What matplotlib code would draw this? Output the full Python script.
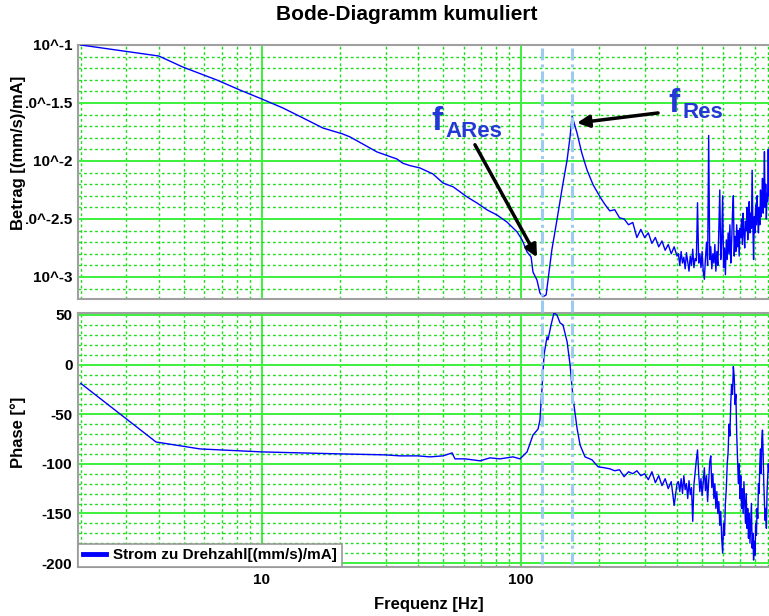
import numpy as np
import matplotlib
matplotlib.use("Agg")
import matplotlib.pyplot as plt
import matplotlib.transforms as mtransforms
from matplotlib.lines import Line2D
from matplotlib.ticker import FixedLocator, FixedFormatter, MultipleLocator, FuncFormatter, NullFormatter

plt.rcParams['font.family'] = ['Liberation Sans', 'DejaVu Sans']
plt.rcParams['font.weight'] = 'bold'
plt.rcParams['axes.unicode_minus'] = False

# Magnitude (log10 of |G| in (mm/s)/mA), smooth part up to ~200 Hz
mag_freq_lo = [2.0, 4.0, 4.95, 6.7, 8.22, 10.0, 12.05, 14.4, 17.2, 20.5,
               21.9, 27.8, 33.2, 35.0, 37.3, 40.7, 45.7, 50.0, 54.8, 61.9,
               67.6, 74.0, 80.8, 88.2, 96.6, 101.0, 105.5, 109.4, 111.2, 115.2,
               118.3, 121.6, 125.0, 127.1, 131.5, 137.6, 144.4, 150.6, 154.6, 157.4,
               164.5, 171.6, 179.8, 189.9, 201.9]
mag_lo = [-1.0, -1.095, -1.190, -1.302, -1.388, -1.466, -1.543, -1.629, -1.716, -1.767,
          -1.793, -1.922, -1.983, -2.02, -2.04, -2.06, -2.112, -2.19, -2.224, -2.31,
          -2.362, -2.422, -2.466, -2.526, -2.612, -2.681, -2.784, -2.828, -2.957, -3.026,
          -3.138, -3.17, -3.155, -3.026, -2.767, -2.509, -2.224, -1.991, -1.793, -1.612,
          -1.759, -1.931, -2.078, -2.207, -2.31]

# Phase (deg), smooth part up to ~200 Hz
ph_freq_lo = [2.0, 3.9, 5.77, 10.0, 20.0, 30.0, 34.1, 40.0, 44.5, 50.0,
              54.2, 55.6, 60.8, 69.5, 75.9, 83.0, 93.1, 99.1, 105.5, 111.2,
              116.3, 118.3, 120.5, 122.7, 126.0, 127.1, 130.6, 134.0, 137.6, 141.5,
              145.2, 150.6, 154.6, 158.8, 164.5, 169.0, 176.6, 187.9, 198.3]
phase_lo = [-19, -78, -85, -88, -90, -91, -92, -92, -93, -92,
            -89, -95, -95, -97, -94, -95, -93, -95, -88, -71,
            -65, -56, -24, 10, 28, 25, 40, 52, 50, 42,
            40, 23, 0, -34, -64, -81, -93, -96, -103]

# Noisy high-frequency part, FFT bins
freq_hi = list(range(210, 401, 10)) + list(range(405, 906, 5))
mag_hi = [-2.37, -2.43, -2.42, -2.49, -2.50, -2.55, -2.53, -2.66, -2.59, -2.66,
          -2.62, -2.71, -2.66, -2.74, -2.69, -2.77, -2.72, -2.80, -2.74, -2.82,
          -2.80, -2.90, -2.78, -2.88, -2.83, -2.93, -2.79, -2.87, -2.95, -2.82,
          -2.90, -2.76, -2.92, -2.84, -2.86, -2.36, -2.88, -2.80, -2.92, -2.78,
          -2.95, -3.02, -2.84, -2.70, -2.90, -1.78, -2.85, -2.74, -2.93, -2.80,
          -2.88, -2.72, -2.95, -2.78, -2.90, -2.60, -2.25, -2.85, -2.70, -2.30,
          -2.92, -2.75, -2.98, -2.68, -2.85, -2.62, -2.80, -2.55, -2.88, -2.70,
          -2.45, -2.30, -2.82, -2.65, -2.78, -2.55, -2.74, -2.60, -2.82, -2.58,
          -2.66, -2.50, -2.72, -2.45, -2.62, -2.75, -2.52, -2.60, -2.40, -2.68,
          -2.50, -2.35, -2.62, -2.45, -2.58, -2.08, -2.55, -2.85, -2.48, -2.62,
          -2.38, -2.55, -2.30, -2.50, -2.62, -2.40, -2.55, -2.25, -2.48, -2.35,
          -2.15, -2.45, -2.30, -1.92, -2.40, -2.20, -2.50, -2.28, -2.35, -1.90,
          -2.30]
phase_hi = [-104, -105, -107, -106, -113, -108, -110, -107, -112, -110,
            -116, -108, -119, -112, -122, -115, -125, -118, -142, -120,
            -118, -128, -115, -130, -112, -126, -120, -135, -117, -131,
            -124, -158, -121, -108, -96, -86, -110, -128, -115, -132,
            -119, -104, -127, -112, -138, -118, -98, -92, -124, -110,
            -135, -120, -145, -128, -150, -138, -162, -148, -175, -190,
            -160, -172, -140, -125, -100, -88, -60, -72, -38, -20,
            -30, -2, -12, -40, -30, -70, -95, -120, -100, -135,
            -112, -145, -125, -150, -118, -140, -160, -130, -165, -145,
            -175, -150, -180, -160, -140, -185, -170, -197, -178, -192,
            -160, -172, -145, -155, -120, -130, -100, -85, -110, -75,
            -66, -90, -120, -140, -157, -145, -165, -130, -115, -100,
            -108]

f_ares = 120.5   # anti-resonance
f_res = 157.4    # resonance

freq_mag = mag_freq_lo + freq_hi
mag = mag_lo + mag_hi
freq_ph = ph_freq_lo + freq_hi
phase = phase_lo + phase_hi

W, H = 769, 616
fig = plt.figure(figsize=(W / 100, H / 100), dpi=100)
ax_mag = fig.add_axes([78 / W, 1 - 299 / H, 691 / W, 254 / H])
ax_ph = fig.add_axes([78 / W, 1 - 567 / H, 691 / W, 254 / H], sharex=ax_mag)

major_green = "#3cf03c"
minor_green = "#1edc1e"
curve_blue = "#0000ff"
marker_blue = "#9ccbef"

for ax in (ax_mag, ax_ph):
    ax.set_xscale("log")
    ax.set_xlim(1.95, 906)
    ax.xaxis.set_major_locator(FixedLocator([10, 100]))
    ax.xaxis.set_minor_locator(FixedLocator([2, 3, 4, 5, 6, 7, 8, 9,
                                             20, 30, 40, 50, 60, 70, 80, 90,
                                             200, 300, 400, 500, 600, 700, 800, 900]))
    ax.xaxis.set_minor_formatter(NullFormatter())
    ax.set_axisbelow(True)
    ax.grid(which="major", color=major_green, lw=1.4, ls="-")
    ax.grid(which="minor", color=minor_green, lw=1.0, ls=(0, (2, 2)))
    ax.tick_params(which="both", length=0, labelsize=11, pad=4)
    for side in ("left", "top", "bottom"):
        ax.spines[side].set_color("#a0a0a0")
        ax.spines[side].set_linewidth(1.5)
    ax.spines["right"].set_visible(False)

# magnitude panel
ax_mag.plot(freq_mag, mag, color=curve_blue, lw=1.0, zorder=3)
ax_mag.set_ylim(-3.19, -1.0)
ax_mag.yaxis.set_major_locator(MultipleLocator(0.5))
ax_mag.yaxis.set_minor_locator(MultipleLocator(0.1))
ax_mag.yaxis.set_major_formatter(FuncFormatter(lambda v, p: f"10^{v:g}"))
ax_mag.tick_params(axis="x", labelbottom=False)
ax_mag.set_ylabel("Betrag [(mm/s)/mA]", fontsize=12, fontweight="bold",
                  bbox=dict(facecolor="white", edgecolor="none", pad=0))
ax_mag.yaxis.set_label_coords(-0.075, 0.575)

# phase panel
ax_ph.plot(freq_ph, phase, color=curve_blue, lw=1.0, zorder=3)
ax_ph.set_ylim(-204, 52)
ax_ph.yaxis.set_major_locator(MultipleLocator(50))
ax_ph.yaxis.set_minor_locator(MultipleLocator(10))
ax_ph.xaxis.set_major_formatter(FixedFormatter(["10", "100"]))
ax_ph.set_ylabel("Phase [°]", fontsize=12, fontweight="bold")
ax_ph.yaxis.set_label_coords(-0.075, 0.53)
ax_ph.set_xlabel("Frequenz [Hz]", fontsize=12, fontweight="bold")
ax_ph.xaxis.set_label_coords(0.508, -0.12)

leg = ax_ph.legend([Line2D([], [], color=curve_blue, lw=3.5)],
                   ["Strom zu Drehzahl[(mm/s)/mA]"],
                   loc="lower left", borderaxespad=0, fancybox=False,
                   framealpha=1, edgecolor="#999999",
                   prop={"weight": "bold", "size": 11},
                   handlelength=1.5, handletextpad=0.5, borderpad=0.3)
leg.get_frame().set_linewidth(1.2)

# resonance / anti-resonance markers running through both panels
trans = mtransforms.blended_transform_factory(ax_mag.transData, fig.transFigure)
for fx in (f_ares, f_res):
    fig.add_artist(Line2D([fx, fx], [1 - 48 / H, 1 - 568 / H], transform=trans,
                          color=marker_blue, lw=2.2,
                          ls=(0, (3.9, 1.3, 1.0, 1.3)), zorder=2))

# labels with arrows
label_blue = "#2438d8"
ax_mag.annotate("", xy=(115.3, -2.83), xytext=(66.4, -1.86),
                arrowprops=dict(arrowstyle="-|>", color="black", lw=2.5,
                                mutation_scale=18, shrinkA=0, shrinkB=0), zorder=5)
ax_mag.annotate("", xy=(164.5, -1.672), xytext=(338, -1.586),
                arrowprops=dict(arrowstyle="-|>", color="black", lw=2.5,
                                mutation_scale=18, shrinkA=0, shrinkB=0), zorder=5)
ax_mag.text(45.0, -1.733, "f", color=label_blue, fontsize=24, fontweight="bold",
            va="baseline", ha="left", zorder=5)
ax_mag.text(50.9, -1.793, "ARes", color=label_blue, fontsize=16, fontweight="bold",
            va="baseline", ha="left", zorder=5)
ax_mag.text(369.6, -1.578, "f", color=label_blue, fontsize=24, fontweight="bold",
            va="baseline", ha="left", zorder=5)
ax_mag.text(418.4, -1.629, "Res", color=label_blue, fontsize=16, fontweight="bold",
            va="baseline", ha="left", zorder=5)

fig.text(407 / W, 1 - 14 / H, "Bode-Diagramm kumuliert", ha="center", va="center",
         fontsize=15, fontweight="bold")

fig.savefig("out.png", dpi=100, facecolor="white")
